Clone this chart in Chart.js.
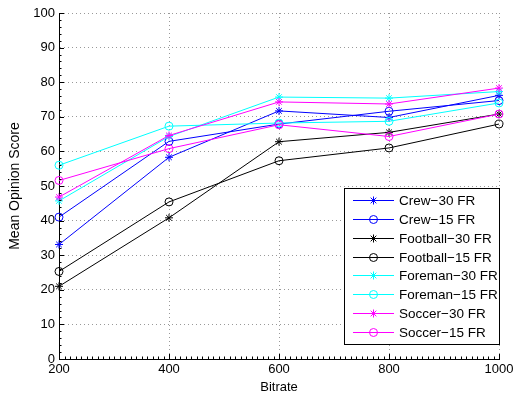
<!DOCTYPE html>
<html>
<head>
<meta charset="utf-8">
<script src="https://cdn.jsdelivr.net/npm/chart.js@4"></script>
<style>
  html, body { margin: 0; padding: 0; background: #fff; }
  #wrap { width: 517px; height: 395px; }
</style>
</head>
<body>
<div id="wrap"><canvas id="mosChart" width="517" height="395"></canvas></div>
<script>
// bitrate points and MOS per sequence / frame rate
const bitrates = [200, 400, 600, 800, 1000];
const crew30     = [33.1, 58.3, 71.7, 69.8, 76.2];
const crew15     = [41.0, 62.9, 67.9, 71.6, 74.7];
const football30 = [21.0, 40.8, 62.8, 65.5, 70.8];
const football15 = [25.3, 45.4, 57.3, 61.0, 67.9];
const foreman30  = [45.7, 64.3, 75.7, 75.4, 77.3];
const foreman15  = [56.0, 67.3, 68.2, 68.7, 74.0];
const soccer30   = [46.8, 64.6, 74.3, 73.7, 78.3];
const soccer15   = [51.6, 60.8, 67.7, 64.3, 70.8];

const seriesNames = ['Crew−30 FR', 'Crew−15 FR', 'Football−30 FR', 'Football−15 FR',
                     'Foreman−30 FR', 'Foreman−15 FR', 'Soccer−30 FR', 'Soccer−15 FR'];
const seriesData = [crew30, crew15, football30, football15, foreman30, foreman15, soccer30, soccer15];
const seriesColors = ['#0000ff', '#0000ff', '#000000', '#000000', '#00ffff', '#00ffff', '#ff00ff', '#ff00ff'];
const seriesMarkers = ['star', 'circle', 'star', 'circle', 'star', 'circle', 'star', 'circle'];

const FONT = '"Liberation Sans", Arial, Helvetica, sans-serif';

const datasets = seriesNames.map((name, i) => ({
    label: name,
    data: bitrates.map((b, j) => ({ x: b, y: seriesData[i][j] })),
    borderColor: seriesColors[i],
    backgroundColor: 'rgba(0,0,0,0)',
    pointBorderColor: seriesColors[i],
    pointBackgroundColor: 'rgba(0,0,0,0)',
    pointStyle: seriesMarkers[i],
    pointRadius: 4,
    pointBorderWidth: 1,
    borderWidth: 1,
    tension: 0,
    clip: false,
    order: seriesNames.length - i   // later series on top
}));

// inward major + minor tick marks on left and bottom axes
const tickMarks = {
    id: 'tickMarks',
    afterDraw(chart) {
        const { ctx, chartArea, scales } = chart;
        ctx.save();
        ctx.strokeStyle = '#000';
        ctx.lineWidth = 1;
        ctx.beginPath();
        for (let v = 0; v <= 100; v += 2) {
            const y = Math.round(scales.y.getPixelForValue(v)) + 0.5;
            const len = v % 10 === 0 ? 5 : 2.5;
            ctx.moveTo(chartArea.left, y);
            ctx.lineTo(chartArea.left + len, y);
        }
        for (let v = 200; v <= 1000; v += 10) {
            const x = Math.round(scales.x.getPixelForValue(v)) + 0.5;
            const len = v % 200 === 0 ? 5 : 2.5;
            ctx.moveTo(x, chartArea.bottom);
            ctx.lineTo(x, chartArea.bottom - len);
        }
        ctx.stroke();
        ctx.restore();
    }
};

// boxed legend in the lower right of the plot
const boxLegend = {
    id: 'boxLegend',
    afterDraw(chart) {
        const { ctx } = chart;
        const left = 344.5, top = 188.5, w = 155, h = 156;
        const rowH = 18.85, firstY = 200;
        ctx.save();
        ctx.fillStyle = '#fff';
        ctx.fillRect(left, top, w, h);
        ctx.strokeStyle = '#000';
        ctx.lineWidth = 1;
        ctx.strokeRect(left, top, w, h);
        ctx.font = '13.5px ' + FONT;
        ctx.textBaseline = 'middle';
        chart.data.datasets.forEach((ds, i) => {
            const y = Math.round(firstY + i * rowH) + 0.5;
            ctx.strokeStyle = ds.borderColor;
            ctx.beginPath();
            ctx.moveTo(353, y);
            ctx.lineTo(394, y);
            ctx.stroke();
            const cx = 373.5, r = 4;
            ctx.beginPath();
            if (ds.pointStyle === 'circle') {
                ctx.arc(cx, y, r, 0, Math.PI * 2);
            } else {
                ctx.moveTo(cx - r, y); ctx.lineTo(cx + r, y);
                ctx.moveTo(cx, y - r); ctx.lineTo(cx, y + r);
                const d = r * Math.SQRT1_2;
                ctx.moveTo(cx - d, y - d); ctx.lineTo(cx + d, y + d);
                ctx.moveTo(cx - d, y + d); ctx.lineTo(cx + d, y - d);
            }
            ctx.stroke();
            ctx.fillStyle = '#000';
            ctx.fillText(ds.label, 399, y + 1);
        });
        ctx.restore();
    }
};

const ctx = document.getElementById('mosChart').getContext('2d');
new Chart(ctx, {
    type: 'line',
    data: { datasets: datasets },
    options: {
        responsive: false,
        animation: false,
        layout: { padding: { left: 0, right: 18, top: 13, bottom: 0 } },
        plugins: {
            legend: { display: false },
            tooltip: { enabled: false }
        },
        scales: {
            x: {
                type: 'linear',
                min: 200,
                max: 1000,
                ticks: { stepSize: 200, color: '#000', font: { family: FONT, size: 13 }, padding: 3, maxRotation: 0,
                         callback: v => String(v) },
                grid: { color: '#999', drawTicks: false, lineWidth: 1 },
                border: { display: true, color: '#000', width: 1, dash: [1, 3] },
                title: { display: true, text: 'Bitrate', color: '#000', font: { family: FONT, size: 13 }, padding: { top: 3, bottom: 0 } },
                afterFit: s => { s.height = 36; }
            },
            y: {
                min: 0,
                max: 100,
                ticks: { stepSize: 10, color: '#000', font: { family: FONT, size: 13 }, padding: 4,
                         callback: v => String(v) },
                grid: { color: '#999', drawTicks: false, lineWidth: 1 },
                border: { display: true, color: '#000', width: 1, dash: [1, 3] },
                title: { display: true, text: 'Mean Opinion Score', color: '#000', font: { family: FONT, size: 14 }, padding: { top: 7, bottom: 4 } },
                afterFit: s => { s.width = 59; }
            }
        }
    },
    plugins: [tickMarks, boxLegend]
});
</script>
</body>
</html>
